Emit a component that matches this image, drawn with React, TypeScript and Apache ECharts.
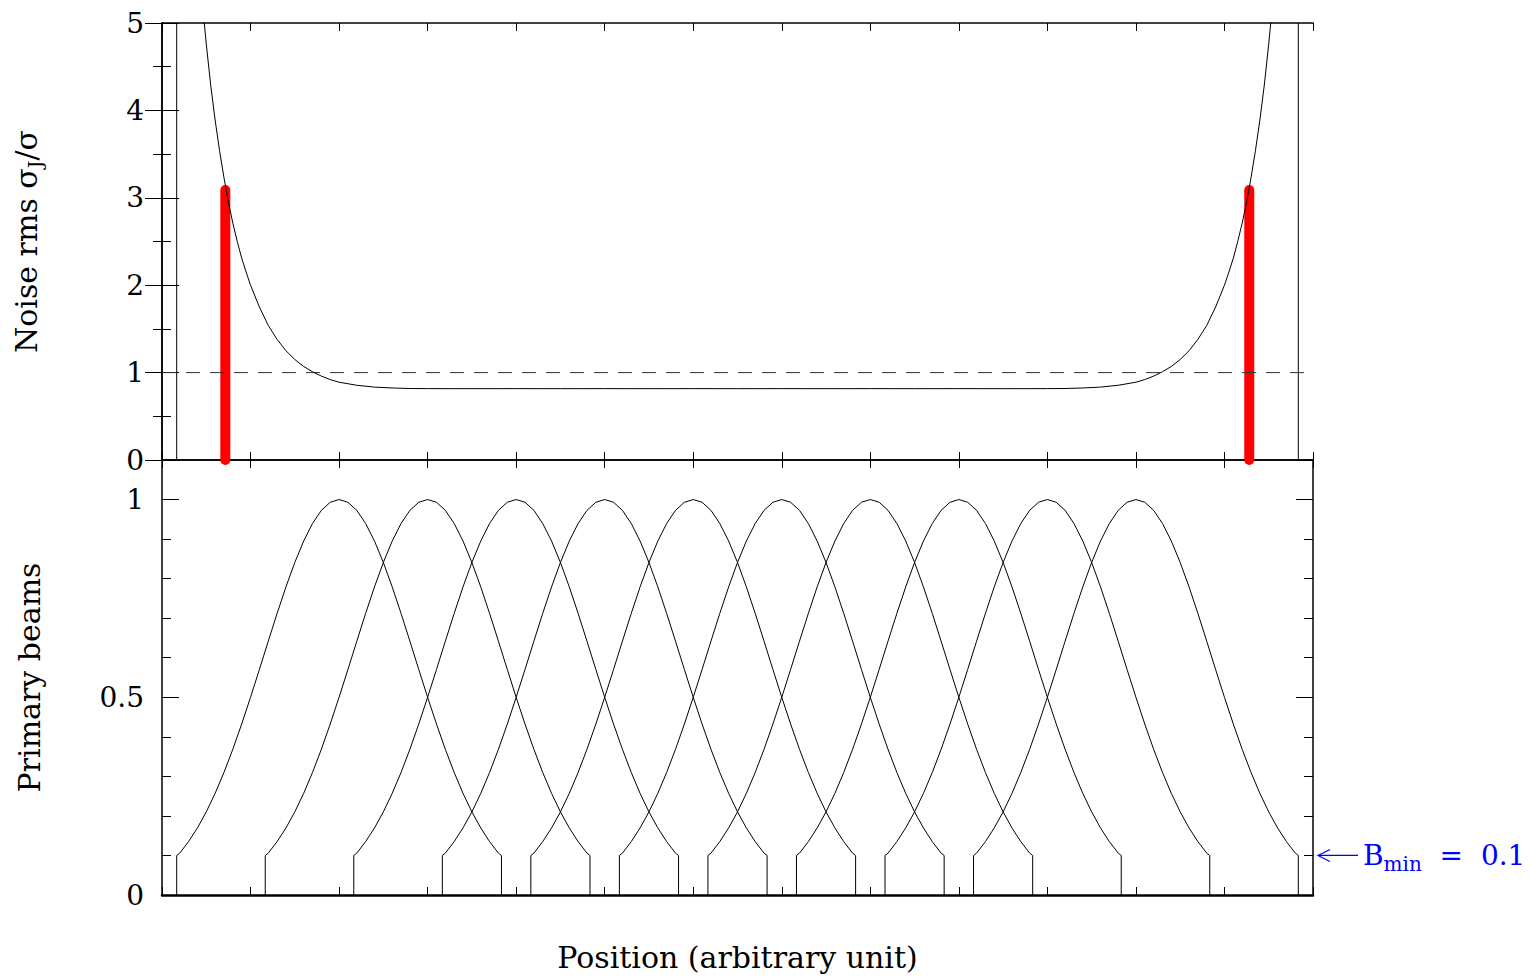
import React, { useEffect, useRef } from "react";
import * as echarts from "echarts";

// ---- data ----
const xMin = 0;
const xMax = 13;

const noiseMax = 5;
const beamMax = 1.1;

const beamCenters = [2, 3, 4, 5, 6, 7, 8, 9, 10, 11];
const beamOffsets = [
  -1.834, -1.834, -1.8, -1.7, -1.6, -1.5, -1.4, -1.3, -1.2, -1.1, -1.0, -0.9, -0.8, -0.7,
  -0.6, -0.5, -0.4, -0.3, -0.2, -0.1, 0, 0.1, 0.2, 0.3, 0.4, 0.5, 0.6, 0.7, 0.8, 0.9, 1.0,
  1.1, 1.2, 1.3, 1.4, 1.5, 1.6, 1.7, 1.8, 1.834, 1.834,
];
const beamProfile = [
  0, 0.1, 0.1058, 0.135, 0.1696, 0.2102, 0.257, 0.3099, 0.3686, 0.4323, 0.5, 0.5703, 0.6417,
  0.712, 0.7792, 0.8409, 0.895, 0.9395, 0.9727, 0.9931, 1, 0.9931, 0.9727, 0.9395, 0.895,
  0.8409, 0.7792, 0.712, 0.6417, 0.5703, 0.5, 0.4323, 0.3686, 0.3099, 0.257, 0.2102, 0.1696,
  0.135, 0.1058, 0.1, 0,
];

const noiseX = [
  0.4, 0.45, 0.5, 0.55, 0.6, 0.65, 0.7, 0.75, 0.8, 0.85, 0.9, 0.95, 1.0, 1.1, 1.2, 1.3, 1.4,
  1.5, 1.6, 1.7, 1.8, 1.9, 2.0, 2.2, 2.4, 2.6, 2.8, 3.0, 3.5, 4.0, 4.5, 5.0, 5.5, 6.0, 6.5,
  7.0, 7.5, 8.0, 8.5, 9.0, 9.5, 10.0, 10.2, 10.4, 10.6, 10.8, 11.0, 11.1, 11.2, 11.3, 11.4,
  11.5, 11.6, 11.7, 11.8, 11.9, 12.0, 12.05, 12.1, 12.15, 12.2, 12.25, 12.3, 12.35, 12.4,
  12.45, 12.5, 12.55, 12.6,
];
const noiseY = [
  5.9, 5.29, 4.76, 4.29, 3.89, 3.54, 3.23, 2.95, 2.71, 2.5, 2.31, 2.15, 2.0, 1.75, 1.54, 1.38,
  1.25, 1.15, 1.07, 1.01, 0.96, 0.92, 0.89, 0.855, 0.834, 0.824, 0.818, 0.8165, 0.816, 0.8165,
  0.816, 0.8165, 0.816, 0.8165, 0.816, 0.8165, 0.816, 0.8165, 0.816, 0.8165, 0.816, 0.8165,
  0.818, 0.824, 0.834, 0.855, 0.89, 0.92, 0.96, 1.01, 1.07, 1.15, 1.25, 1.38, 1.54, 1.75, 2.0,
  2.15, 2.31, 2.5, 2.71, 2.95, 3.23, 3.54, 3.89, 4.29, 4.76, 5.29, 5.9,
];

const supportEdges = [0.166, 12.834];
const cutPositions = [0.715, 12.28];
const cutNoise = [3.09, 3.09];
const referenceLevel = 1;
const bMin = 0.1;

const FONT = "DejaVu Serif";

export default function App() {
  const ref = useRef<HTMLDivElement>(null);

  useEffect(() => {
    if (!ref.current) return;
    const chart = echarts.init(ref.current, undefined, { renderer: "svg" });

    const black = "#000";
    const labelStyle = { fontFamily: FONT, fontSize: 28, color: black };
    const titleStyle = { fontFamily: FONT, fontSize: 30, color: black };

    const xCommon = (gridIndex: number, position: "top" | "bottom", lineWidth: number) => ({
      type: "value",
      gridIndex,
      position,
      min: xMin,
      max: xMax,
      interval: 1,
      axisLine: { show: true, onZero: false, lineStyle: { color: black, width: lineWidth } },
      axisTick: { show: true, inside: true, length: 8, lineStyle: { color: black, width: 1 } },
      axisLabel: { show: false },
      splitLine: { show: false },
    });

    const series: any[] = [];

    // red cut markers
    cutPositions.forEach((x, i) => {
      series.push({
        type: "line",
        xAxisIndex: 0,
        yAxisIndex: 0,
        data: [
          [x, 0],
          [x, cutNoise[i]],
        ],
        symbol: "none",
        clip: false,
        silent: true,
        z: 1,
        lineStyle: { color: "#ff0000", width: 10, cap: "round" },
      });
    });

    // support edges
    supportEdges.forEach((x) => {
      series.push({
        type: "line",
        xAxisIndex: 0,
        yAxisIndex: 0,
        data: [
          [x, 0],
          [x, noiseMax],
        ],
        symbol: "none",
        silent: true,
        z: 3,
        lineStyle: { color: black, width: 1 },
      });
    });

    // noise curve
    series.push({
      type: "line",
      xAxisIndex: 0,
      yAxisIndex: 0,
      data: noiseX.map((x, i) => [x, noiseY[i]]),
      symbol: "none",
      silent: true,
      z: 3,
      lineStyle: { color: black, width: 1 },
    });

    // reference level (dashed)
    series.push({
      type: "line",
      xAxisIndex: 0,
      yAxisIndex: 0,
      data: [
        [xMin, referenceLevel],
        [xMax, referenceLevel],
      ],
      symbol: "none",
      silent: true,
      z: 2,
      lineStyle: { color: "#333", width: 1, type: [14, 10] },
    });

    // primary beams
    beamCenters.forEach((c) => {
      series.push({
        type: "line",
        xAxisIndex: 2,
        yAxisIndex: 2,
        data: beamOffsets.map((o, i) => [c + o, beamProfile[i]]),
        symbol: "none",
        silent: true,
        z: 3,
        lineStyle: { color: black, width: 1 },
      });
    });

    chart.setOption({
      animation: false,
      backgroundColor: "#fff",
      grid: [
        { left: 162, top: 23, width: 1151, height: 437 },
        { left: 162, top: 460, width: 1151, height: 435 },
      ],
      xAxis: [
        xCommon(0, "bottom", 1.5),
        xCommon(0, "top", 1.5),
        {
          ...xCommon(1, "bottom", 2.5),
          name: "Position (arbitrary unit)",
          nameLocation: "middle",
          nameGap: 47,
          nameTextStyle: titleStyle,
        },
        xCommon(1, "top", 1.5),
      ],
      yAxis: [
        {
          type: "value",
          gridIndex: 0,
          position: "left",
          min: 0,
          max: noiseMax,
          interval: 1,
          axisLine: { show: true, lineStyle: { color: black, width: 1.5 } },
          axisTick: { show: true, inside: true, length: 17, lineStyle: { color: black } },
          minorTick: { show: true, splitNumber: 2, length: 9, lineStyle: { color: black } },
          axisLabel: { ...labelStyle, margin: 18 },
          splitLine: { show: false },
          minorSplitLine: { show: false },
          name: "Noise rms σ{s|J}/σ",
          nameLocation: "middle",
          nameRotate: 90,
          nameGap: 118,
          nameTextStyle: {
            ...titleStyle,
            rich: { s: { fontFamily: FONT, fontSize: 19, color: black, padding: [16, 0, 0, 0] } },
          },
        },
        {
          type: "value",
          gridIndex: 0,
          position: "right",
          min: 0,
          max: noiseMax,
          interval: 1,
          axisLine: { show: true, lineStyle: { color: black, width: 1.5 } },
          axisTick: { show: true, inside: true, length: 17, lineStyle: { color: black } },
          minorTick: { show: true, splitNumber: 2, length: 9, lineStyle: { color: black } },
          axisLabel: { show: false },
          splitLine: { show: false },
        },
        {
          type: "value",
          gridIndex: 1,
          position: "left",
          min: 0,
          max: beamMax,
          interval: 0.5,
          axisLine: { show: true, lineStyle: { color: black, width: 1.5 } },
          axisTick: { show: true, inside: true, length: 17, lineStyle: { color: black } },
          axisLabel: { ...labelStyle, margin: 18, showMaxLabel: false },
          splitLine: { show: false },
          name: "Primary beams",
          nameLocation: "middle",
          nameRotate: 90,
          nameGap: 118,
          nameTextStyle: titleStyle,
        },
        {
          type: "value",
          gridIndex: 1,
          position: "left",
          min: 0,
          max: beamMax,
          interval: 0.1,
          axisLine: { show: false },
          axisTick: { show: true, inside: true, length: 9, lineStyle: { color: black } },
          axisLabel: { show: false },
          splitLine: { show: false },
        },
        {
          type: "value",
          gridIndex: 1,
          position: "right",
          min: 0,
          max: beamMax,
          interval: 0.5,
          axisLine: { show: true, lineStyle: { color: black, width: 1.5 } },
          axisTick: { show: true, inside: true, length: 17, lineStyle: { color: black } },
          axisLabel: { show: false },
          splitLine: { show: false },
        },
        {
          type: "value",
          gridIndex: 1,
          position: "right",
          min: 0,
          max: beamMax,
          interval: 0.1,
          axisLine: { show: false },
          axisTick: { show: true, inside: true, length: 9, lineStyle: { color: black } },
          axisLabel: { show: false },
          splitLine: { show: false },
        },
      ],
      series,
    });

    // annotation for B_min, anchored on the beam axis
    const p = chart.convertToPixel({ xAxisIndex: 2, yAxisIndex: 2 }, [xMax, bMin]) as number[];
    const blue = "#0000ff";
    chart.setOption({
      graphic: [
        {
          type: "line",
          silent: true,
          shape: { x1: p[0] + 5, y1: p[1], x2: p[0] + 45, y2: p[1] },
          style: { stroke: blue, lineWidth: 1.2 },
        },
        {
          type: "polyline",
          silent: true,
          shape: {
            points: [
              [p[0] + 17, p[1] - 6],
              [p[0] + 5, p[1]],
              [p[0] + 17, p[1] + 6],
            ],
          },
          style: { stroke: blue, lineWidth: 1.2, fill: "none" },
        },
        {
          type: "text",
          silent: true,
          x: p[0] + 50,
          y: p[1],
          style: {
            text: "{a|B}{s|min}{a|  =  0.1}",
            fill: blue,
            verticalAlign: "middle",
            align: "left",
            rich: {
              a: { fontFamily: FONT, fontSize: 28, fill: blue },
              s: { fontFamily: FONT, fontSize: 20, fill: blue, padding: [18, 0, 0, 0] },
            },
          },
        },
      ],
    });

    return () => chart.dispose();
  }, []);

  return (
    <div
      ref={ref}
      style={{ position: "fixed", left: 0, top: 0, width: 1530, height: 979, background: "#fff" }}
    />
  );
}
